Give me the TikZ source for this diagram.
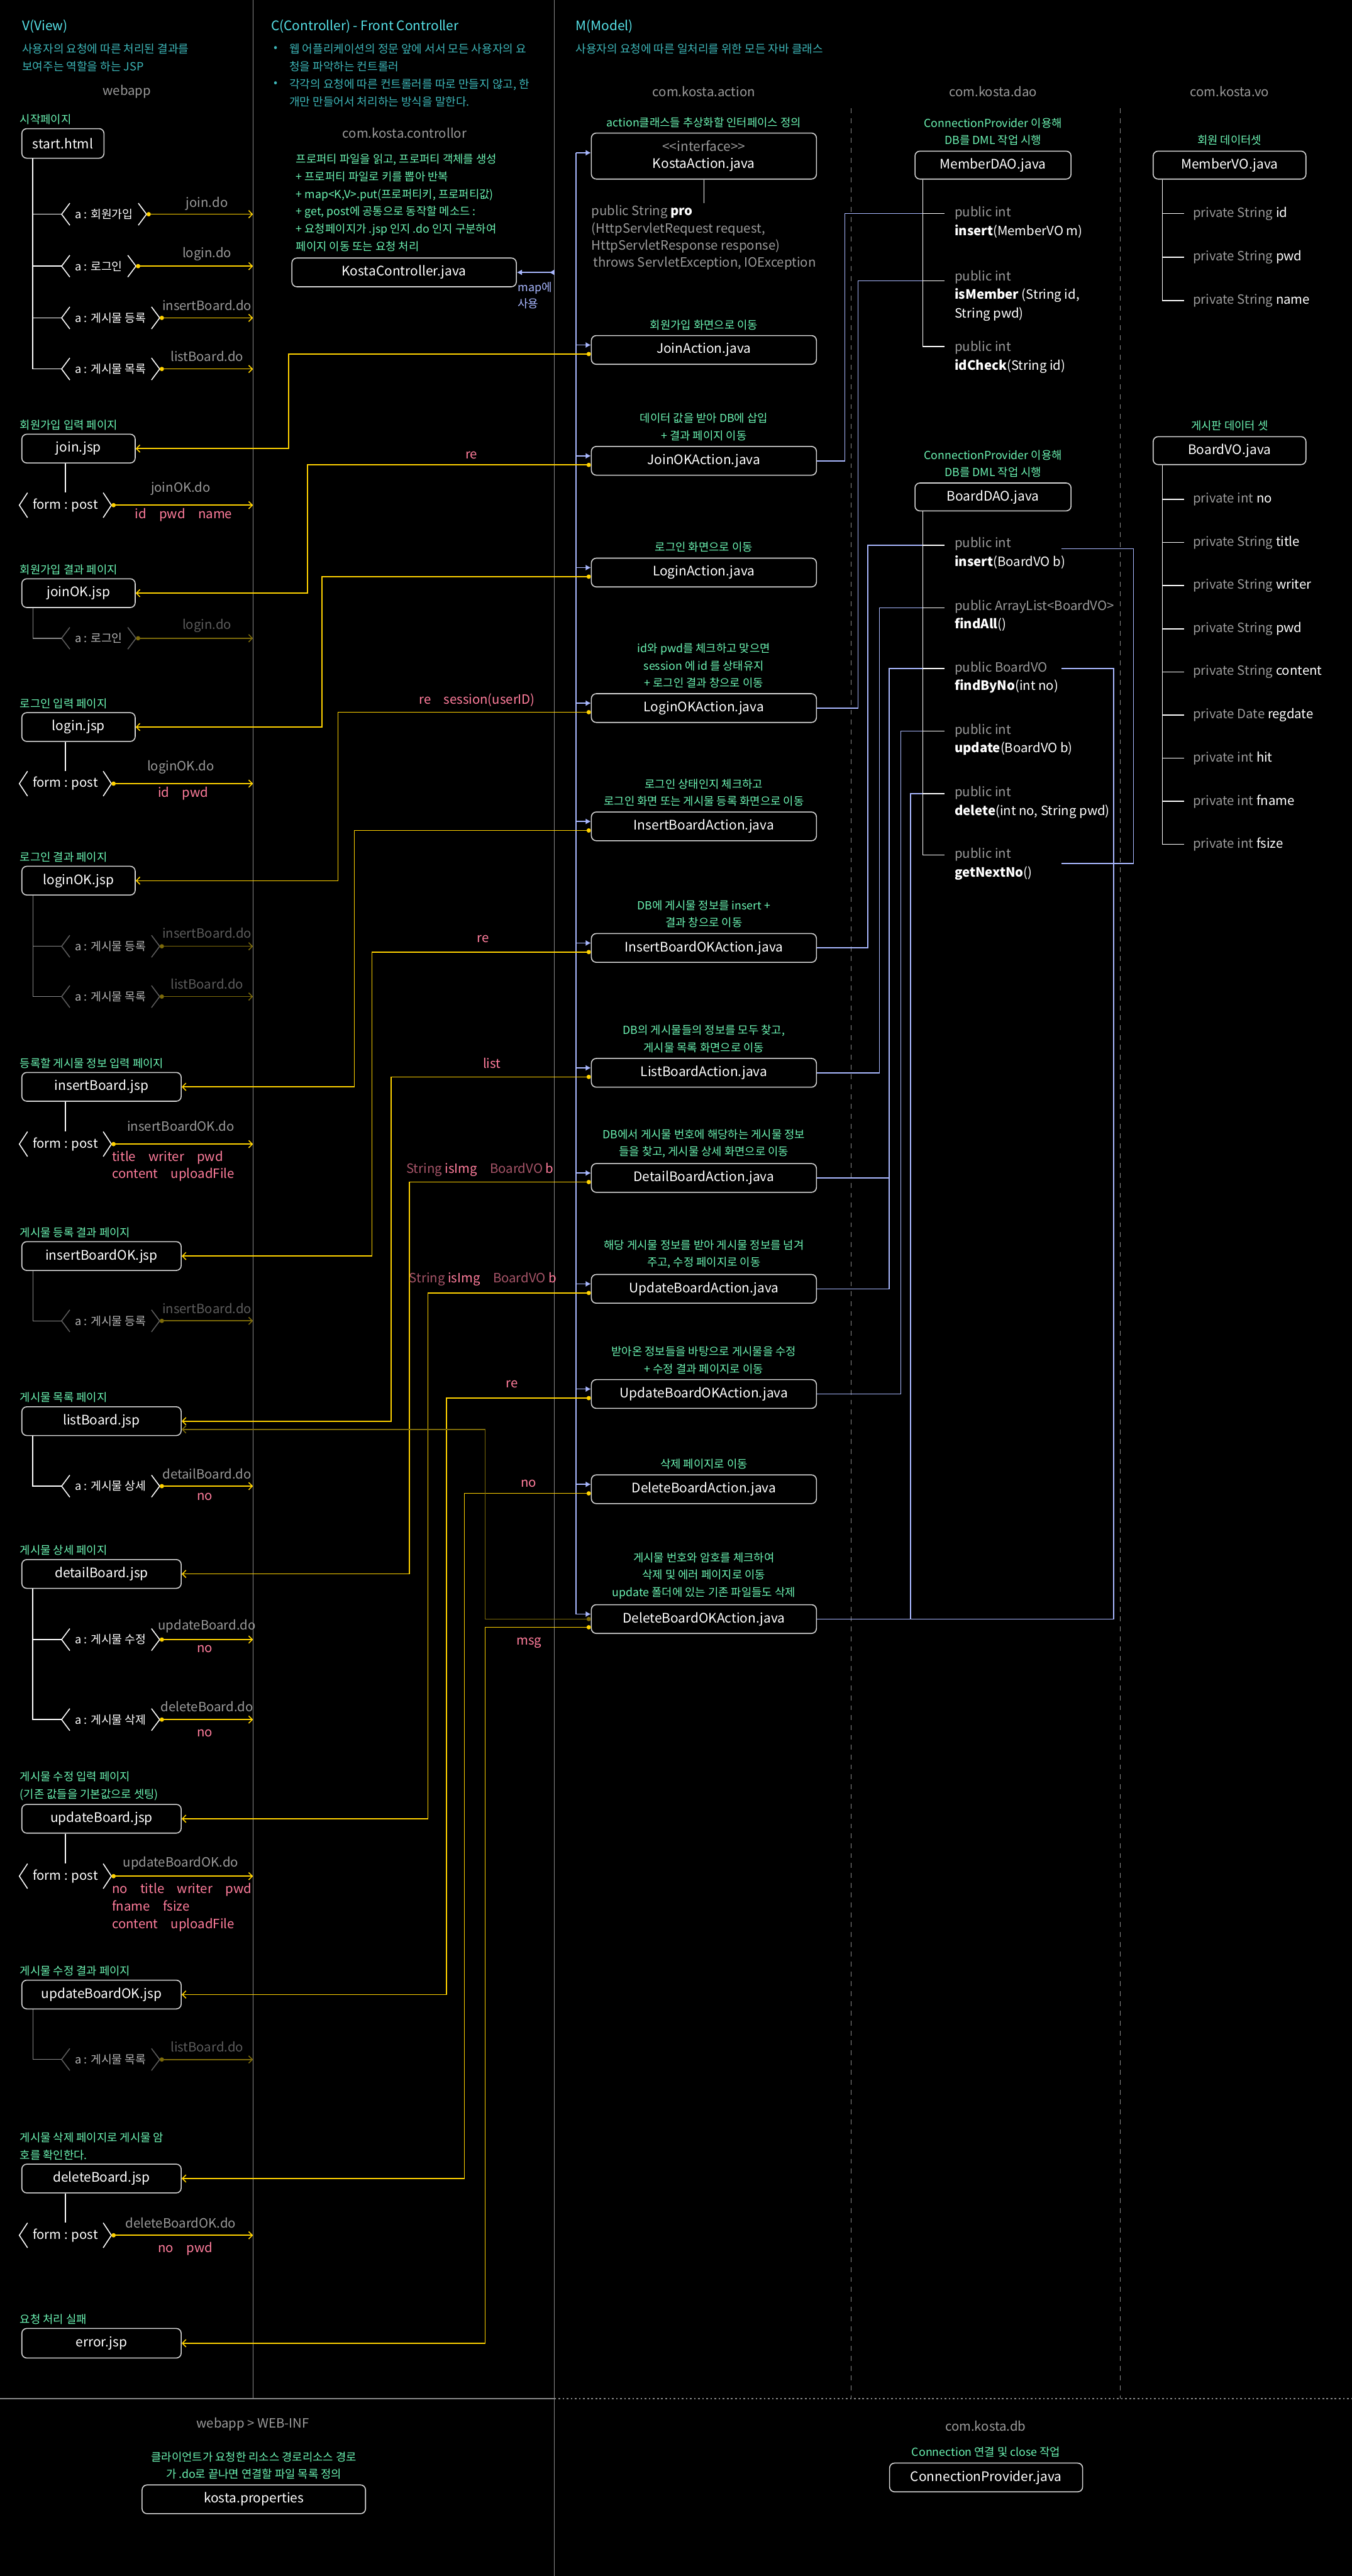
\documentclass[tikz,border=0pt]{standalone}
\usepackage{fontspec}
\setmainfont{Noto Sans CJK KR}
\usetikzlibrary{calc, arrows.meta}

\definecolor{cyanhd}{HTML}{56E0E6}
\definecolor{tealtx}{HTML}{3DB7B9}
\definecolor{mint}{HTML}{6CF5B4}
\definecolor{txtgray}{HTML}{9A9A9A}
\definecolor{dimgray}{HTML}{5C5C5C}
\definecolor{goldln}{HTML}{FFD200}
\definecolor{golddim}{HTML}{7C6A0A}
\definecolor{pinktx}{HTML}{FF7D9C}
\definecolor{pinkdim}{HTML}{A65468}
\definecolor{lavln}{HTML}{A9B8FF}
\definecolor{boxln}{HTML}{D6D6D6}
\definecolor{divln}{HTML}{8A8A8A}

% < a : ... > chevrons round a link node
\newcommand{\chevs}[2]{\draw[#2, line width=0.6pt]
  ([xshift=5pt]#1.north west) -- (#1.west) -- ([xshift=5pt]#1.south west)
  ([xshift=-5pt]#1.north east) -- (#1.east) -- ([xshift=-5pt]#1.south east);}
\newcommand{\mn}[2]{\textcolor{white}{\textbf{#1}#2}}

\begin{document}
\begin{tikzpicture}[x=1pt, y=-1pt,
  box/.style={draw=boxln, line width=0.6pt, rounded corners=3pt, fill=black, text=white,
    font=\fontsize{8}{10.6}\selectfont, minimum height=17.5pt, inner sep=2pt, align=center},
  vbox/.style={box, anchor=north west, minimum width=69pt},
  vboxw/.style={vbox, minimum width=97pt},
  abox/.style={box, minimum width=137pt},
  mlbl/.style={text=mint, font=\fontsize{6.8}{10.5}\selectfont, align=center, inner sep=1pt, anchor=south},
  plbl/.style={text=mint, font=\fontsize{6.8}{10.5}\selectfont, align=left, inner sep=1pt, anchor=south west},
  pkg/.style={text=txtgray, font=\fontsize{7.8}{10}\selectfont},
  url/.style={text=txtgray, font=\fontsize{7.8}{10}\selectfont, inner sep=0pt},
  urldim/.style={url, text=dimgray},
  param/.style={text=pinktx, font=\fontsize{7.8}{10.6}\selectfont, align=left, anchor=west, inner sep=0pt},
  rlbl/.style={text=pinktx, font=\fontsize{7.8}{10}\selectfont, inner sep=0pt},
  lnk/.style={text=white, font=\fontsize{7}{9}\selectfont, anchor=west, inner xsep=8pt, minimum height=11.6pt},
  lnkdim/.style={lnk, text=txtgray!75},
  form/.style={lnk, anchor=center, font=\fontsize{7.8}{9}\selectfont},
  tree/.style={draw=white, line width=0.6pt},
  treedim/.style={draw=divln, line width=0.5pt},
  go/.style={draw=goldln, line width=0.6pt, {Circle[length=2.6pt]}-{Straight Barb[length=2.2pt,width=4.5pt]}},
  godim/.style={go, draw=golddim},
  lav/.style={draw=lavln, line width=0.6pt},
  impl/.style={lav, -{Latex[length=3.2pt,width=3.6pt]}},
  meth/.style={text=txtgray, font=\fontsize{7.8}{11.3}\selectfont, align=left, anchor=north west, inner xsep=6pt, inner ysep=0pt},
  fld/.style={text=white, font=\fontsize{7.8}{10}\selectfont, anchor=west, inner xsep=5pt},
  divline/.style={draw=divln, line width=0.5pt}]

  \useasboundingbox (0,0) rectangle (823,1568);
  \fill[black] (0,0) rectangle (823,1568);

  \coordinate (cdiv) at (154,0);
  \coordinate (mdiv) at (337.5,0);
  \coordinate (rin) at (646,0);
  \coordinate (rout) at (678,0);
  \coordinate (rbr) at (690,0);

  % 구역 나누기
  \draw[divline] (cdiv) -- (154,1460);
  \draw[divline] (mdiv) -- (337.5,1568);
  \draw[divline] (0,1460) -- (337.5,1460);
  \draw[divline, dash pattern=on 1pt off 1.5pt] (337.5,1460) -- (823,1460);
  \draw[divline, dash pattern=on 3pt off 3pt] (518,66) -- (518,1460);
  \draw[divline, dash pattern=on 3pt off 3pt] (682,66) -- (682,1460);

  % 머리글
  \node[anchor=west, text=cyanhd, font=\fontsize{8}{10}\selectfont] at (10,16) {V(View)};
  \node[anchor=west, text=tealtx, font=\fontsize{6.9}{10.6}\selectfont, align=left] at (10,35.1)
    {사용자의 요청에 따른 처리된 결과를\\보여주는 역할을 하는 JSP};
  \node[pkg] at (77.3,55.7) {webapp};

  \node[anchor=west, text=cyanhd, font=\fontsize{8}{10}\selectfont] at (161.5,16) {C(Controller) - Front Controller};
  \node[text=tealtx, font=\fontsize{6.9}{10}\selectfont] at (168,29.9) {•};
  \node[text=tealtx, font=\fontsize{6.9}{10}\selectfont] at (168,51.3) {•};
  \node[anchor=west, text=tealtx, font=\fontsize{6.9}{10.6}\selectfont, align=left] at (172.7,35.1)
    {웹 어플리케이션의 정문 앞에 서서 모든 사용자의 요\\청을 파악하는 컨트롤러};
  \node[anchor=west, text=tealtx, font=\fontsize{6.9}{10.6}\selectfont, align=left] at (172.7,56.5)
    {각각의 요청에 따른 컨트롤러를 따로 만들지 않고, 한\\개만 만들어서 처리하는 방식을 말한다.};
  \node[pkg] at (246.3,81) {com.kosta.controllor};

  \node[anchor=west, text=cyanhd, font=\fontsize{8}{10}\selectfont] at (347,16) {M(Model)};
  \node[anchor=west, text=tealtx, font=\fontsize{6.9}{10}\selectfont] at (347,29.9)
    {사용자의 요청에 따른 일처리를 위한 모든 자바 클래스};
  \node[pkg] at (428.5,55.7) {com.kosta.action};
  \node[pkg] at (604.5,55.7) {com.kosta.dao};
  \node[pkg] at (748.5,55.7) {com.kosta.vo};

  % ---------------- View ----------------
  \node[vbox, minimum width=50pt, minimum height=18pt] (start) at (13,78) {start.html};
  \node[plbl] at ([xshift=-2pt,yshift=1pt]start.north west) {시작페이지};
  \node[lnk] (l1) at (37.5,130.4) {a : 회원가입};
  \node[lnk] (l2) at (37.5,162) {a : 로그인};
  \node[lnk] (l3) at (37.5,193.5) {a : 게시물 등록};
  \node[lnk] (l4) at (37.5,224.6) {a : 게시물 목록};
  \foreach \n in {l1,l2,l3,l4} {
    \draw[tree] ([xshift=7pt]start.south west) |- (\n.west);
    \chevs{\n}{white}
    \draw[go] (\n.east) -- (\n.east -| cdiv);
  }
  \node[url] at (126,124) {join.do};
  \node[url] at (126,154.6) {login.do};
  \node[url] at (126,186) {insertBoard.do};
  \node[url] at (126,217) {listBoard.do};

  % join.jsp
  \node[vbox] (join) at (13,264) {join.jsp};
  \node[plbl] at ([xshift=-2pt,yshift=1pt]join.north west) {회원가입 입력 페이지};
  \node[form] (fjoin) at (39.8,307.5) {form : post};
  \chevs{fjoin}{white}
  \draw[tree] (fjoin.north |- join.south) -- (fjoin.north);
  \draw[go] (fjoin.east) -- (fjoin.east -| cdiv);
  \node[url] at (110,297.4) {joinOK.do};
  \node[param] at (82,313.4) {id\quad pwd\quad name};

  % joinOK.jsp
  \node[vbox] (joinok) at (13,352) {joinOK.jsp};
  \node[plbl] at ([xshift=-2pt,yshift=1pt]joinok.north west) {회원가입 결과 페이지};
  \node[lnkdim] (ld1) at (37.5,388.5) {a : 로그인};
  \chevs{ld1}{dimgray}
  \draw[treedim] ([xshift=7pt]joinok.south west) |- (ld1.west);
  \draw[godim] (ld1.east) -- (ld1.east -| cdiv);
  \node[urldim] at (126,381) {login.do};

  % login.jsp
  \node[vbox] (login) at (13,433.5) {login.jsp};
  \node[plbl] at ([xshift=-2pt,yshift=1pt]login.north west) {로그인 입력 페이지};
  \node[form] (flogin) at (39.8,477) {form : post};
  \chevs{flogin}{white}
  \draw[tree] (flogin.north |- login.south) -- (flogin.north);
  \draw[go] (flogin.east) -- (flogin.east -| cdiv);
  \node[url] at (110,467) {loginOK.do};
  \node[param] at (96,483) {id\quad pwd};

  % loginOK.jsp
  \node[vbox] (loginok) at (13,527) {loginOK.jsp};
  \node[plbl] at ([xshift=-2pt,yshift=1pt]loginok.north west) {로그인 결과 페이지};
  \node[lnkdim] (ld2) at (37.5,576) {a : 게시물 등록};
  \node[lnkdim] (ld3) at (37.5,606.6) {a : 게시물 목록};
  \foreach \n in {ld2,ld3} {
    \draw[treedim] ([xshift=7pt]loginok.south west) |- (\n.west);
    \chevs{\n}{dimgray}
    \draw[godim] (\n.east) -- (\n.east -| cdiv);
  }
  \node[urldim] at (126,568) {insertBoard.do};
  \node[urldim] at (126,599) {listBoard.do};

  % insertBoard.jsp
  \node[vboxw] (insertb) at (13,652.5) {insertBoard.jsp};
  \node[plbl] at ([xshift=-2pt,yshift=1pt]insertb.north west) {등록할 게시물 정보 입력 페이지};
  \node[form] (fins) at (39.8,696.4) {form : post};
  \chevs{fins}{white}
  \draw[tree] (fins.north |- insertb.south) -- (fins.north);
  \draw[go] (fins.east) -- (fins.east -| cdiv);
  \node[url] at (110,685.6) {insertBoardOK.do};
  \node[param] at (68,709.8) {title\quad writer\quad pwd\\content\quad uploadFile};

  % insertBoardOK.jsp
  \node[vboxw] (insertbok) at (13,755.5) {insertBoardOK.jsp};
  \node[plbl] at ([xshift=-2pt,yshift=1pt]insertbok.north west) {게시물 등록 결과 페이지};
  \node[lnkdim] (ld4) at (37.5,804) {a : 게시물 등록};
  \chevs{ld4}{dimgray}
  \draw[treedim] ([xshift=7pt]insertbok.south west) |- (ld4.west);
  \draw[godim] (ld4.east) -- (ld4.east -| cdiv);
  \node[urldim] at (126,796.6) {insertBoard.do};

  % listBoard.jsp
  \node[vboxw] (listb) at (13,856) {listBoard.jsp};
  \node[plbl] at ([xshift=-2pt,yshift=1pt]listb.north west) {게시물 목록 페이지};
  \node[lnk] (l5) at (37.5,904.6) {a : 게시물 상세};
  \chevs{l5}{white}
  \draw[tree] ([xshift=7pt]listb.south west) |- (l5.west);
  \draw[go] (l5.east) -- (l5.east -| cdiv);
  \node[url] at (126,897) {detailBoard.do};
  \node[rlbl] at (124.6,911) {no};

  % detailBoard.jsp
  \node[vboxw] (detailb) at (13,949) {detailBoard.jsp};
  \node[plbl] at ([xshift=-2pt,yshift=1pt]detailb.north west) {게시물 상세 페이지};
  \node[lnk] (l6) at (37.5,998) {a : 게시물 수정};
  \node[lnk] (l7) at (37.5,1046.7) {a : 게시물 삭제};
  \foreach \n in {l6,l7} {
    \draw[tree] ([xshift=7pt]detailb.south west) |- (\n.west);
    \chevs{\n}{white}
    \draw[go] (\n.east) -- (\n.east -| cdiv);
  }
  \node[url] at (126,990) {updateBoard.do};
  \node[rlbl] at (124.6,1003.6) {no};
  \node[url] at (126,1038.6) {deleteBoard.do};
  \node[rlbl] at (124.6,1055) {no};

  % updateBoard.jsp
  \node[vboxw] (updateb) at (13,1098) {updateBoard.jsp};
  \node[plbl] at ([xshift=-2pt,yshift=1pt]updateb.north west) {게시물 수정 입력 페이지\\(기존 값들을 기본값으로 셋팅)};
  \node[form] (fupd) at (39.8,1142) {form : post};
  \chevs{fupd}{white}
  \draw[tree] (fupd.north |- updateb.south) -- (fupd.north);
  \draw[go] (fupd.east) -- (fupd.east -| cdiv);
  \node[url] at (110,1134) {updateBoardOK.do};
  \node[param] at (68,1161) {no\quad title\quad writer\quad pwd\\fname\quad fsize\\content\quad uploadFile};

  % updateBoardOK.jsp
  \node[vboxw] (updatebok) at (13,1205) {updateBoardOK.jsp};
  \node[plbl] at ([xshift=-2pt,yshift=1pt]updatebok.north west) {게시물 수정 결과 페이지};
  \node[lnkdim] (ld5) at (37.5,1253.6) {a : 게시물 목록};
  \chevs{ld5}{dimgray}
  \draw[treedim] ([xshift=7pt]updatebok.south west) |- (ld5.west);
  \draw[godim] (ld5.east) -- (ld5.east -| cdiv);
  \node[urldim] at (126,1246) {listBoard.do};

  % deleteBoard.jsp
  \node[vboxw] (deleteb) at (13,1317) {deleteBoard.jsp};
  \node[plbl] at ([xshift=-2pt,yshift=1pt]deleteb.north west) {게시물 삭제 페이지로 게시물 암\\호를 확인한다.};
  \node[form] (fdel) at (39.8,1360.6) {form : post};
  \chevs{fdel}{white}
  \draw[tree] (fdel.north |- deleteb.south) -- (fdel.north);
  \draw[go] (fdel.east) -- (fdel.east -| cdiv);
  \node[url] at (110,1353) {deleteBoardOK.do};
  \node[param] at (96,1369) {no\quad pwd};

  % error.jsp
  \node[vboxw, minimum height=18pt] (error) at (13,1417) {error.jsp};
  \node[plbl] at ([xshift=-2pt,yshift=1pt]error.north west) {요청 처리 실패};

  % ---------------- Controller ----------------
  \node[anchor=west, text=mint, font=\fontsize{6.8}{10.6}\selectfont, align=left] at (176.7,123.4)
    {프로퍼티 파일을 읽고, 프로퍼티 객체를 생성\\+ 프로퍼티 파일로 키를 뽑아 반복\\+ map<K,V>.put(프로퍼티키, 프로퍼티값)\\+ get, post에 공통으로 동작할 메소드 :\\+ 요청페이지가 .jsp 인지 .do 인지 구분하여\\페이지 이동 또는 요청 처리};
  \node[box, minimum width=136.6pt] (ctrl) at (246,165.8) {KostaController.java};
  \node[anchor=west, text=lavln, font=\fontsize{6.9}{10}\selectfont, align=left, inner sep=0.5pt] at (314.5,179.7) {map에\\사용};
  \draw[lav, {Latex[reversed,length=3.2pt,width=3.6pt]}-{Latex[length=3.2pt,width=3.6pt]}] (ctrl.east -| mdiv) -- (ctrl.east);

  % ---------------- Model : action ----------------
  \node[abox, minimum height=28pt] (kaction) at (428.5,95) {\textcolor{txtgray}{<{}<interface>{}>}\\KostaAction.java};
  \node[mlbl] at ([yshift=2pt]kaction.north) {action클래스들 추상화할 인터페이스 정의};
  \node[text=txtgray, font=\fontsize{7.8}{10.5}\selectfont, align=left, anchor=west, inner sep=1pt] (ksig) at (359,144.7)
    {public String \textcolor{white}{\textbf{pro}}\\(HttpServletRequest request,\\HttpServletResponse response)\\\hspace{1pt}throws ServletException, IOException};
  \draw[tree] (kaction.south) -- (kaction.south |- ksig.north);

  \node[abox] (joinact) at (428.5,213) {JoinAction.java};
  \node[mlbl] at ([yshift=2pt]joinact.north) {회원가입 화면으로 이동};
  \node[abox] (joinokact) at (428.5,280.5) {JoinOKAction.java};
  \node[mlbl] at ([yshift=2pt]joinokact.north) {데이터 값을 받아 DB에 삽입\\+ 결과 페이지 이동};
  \node[abox] (loginact) at (428.5,348.5) {LoginAction.java};
  \node[mlbl] at ([yshift=2pt]loginact.north) {로그인 화면으로 이동};
  \node[abox] (loginokact) at (428.5,431) {LoginOKAction.java};
  \node[mlbl] at ([yshift=2pt]loginokact.north) {id와 pwd를 체크하고 맞으면\\session 에 id 를 상태유지\\+ 로그인 결과 창으로 이동};
  \node[abox] (insact) at (428.5,503) {InsertBoardAction.java};
  \node[mlbl] at ([yshift=2pt]insact.north) {로그인 상태인지 체크하고\\로그인 화면 또는 게시물 등록 화면으로 이동};
  \node[abox] (insokact) at (428.5,577) {InsertBoardOKAction.java};
  \node[mlbl] at ([yshift=2pt]insokact.north) {DB에 게시물 정보를 insert +\\결과 창으로 이동};
  \node[abox] (listact) at (428.5,653) {ListBoardAction.java};
  \node[mlbl] at ([yshift=2pt]listact.north) {DB의 게시물들의 정보를 모두 찾고,\\게시물 목록 화면으로 이동};
  \node[abox] (detailact) at (428.5,717) {DetailBoardAction.java};
  \node[mlbl] at ([yshift=2pt]detailact.north) {DB에서 게시물 번호에 해당하는 게시물 정보\\들을 찾고, 게시물 상세 화면으로 이동};
  \node[abox] (updact) at (428.5,784.5) {UpdateBoardAction.java};
  \node[mlbl] at ([yshift=2pt]updact.north) {해당 게시물 정보를 받아 게시물 정보를 넘겨\\주고, 수정 페이지로 이동};
  \node[abox] (updokact) at (428.5,848.5) {UpdateBoardOKAction.java};
  \node[mlbl] at ([yshift=2pt]updokact.north) {받아온 정보들을 바탕으로 게시물을 수정\\+ 수정 결과 페이지로 이동};
  \node[abox] (delact) at (428.5,906.5) {DeleteBoardAction.java};
  \node[mlbl] at ([yshift=2pt]delact.north) {삭제 페이지로 이동};
  \node[abox] (delokact) at (428.5,985.5) {DeleteBoardOKAction.java};
  \node[mlbl] at ([yshift=2pt]delokact.north) {게시물 번호와 암호를 체크하여\\삭제 및 에러 페이지로 이동\\update 폴더에 있는 기존 파일들도 삭제};

  % 인터페이스 구현
  \draw[lav] ([xshift=-9pt,yshift=2pt]kaction.west) -- ([xshift=-9pt,yshift=3pt]delokact.west);
  \draw[impl] ([yshift=2pt]kaction.west) ++(-9,0) -- ([yshift=2pt]kaction.west);
  \foreach \a in {joinact,joinokact,loginact,loginokact,insact,insokact,listact,detailact,updact,updokact,delact,delokact}
    \draw[impl] ([yshift=3pt]\a.west) ++(-9,0) -- ([yshift=3pt]\a.west);

  % ---------------- Model : dao ----------------
  \node[box, minimum width=95pt, minimum height=17pt] (mdao) at (604.5,100.5) {MemberDAO.java};
  \node[mlbl] at ([yshift=2pt]mdao.north) {ConnectionProvider 이용해\\DB를 DML 작업 시행};
  \coordinate (t-mins) at (575,130);
  \coordinate (t-mismem) at (575,171);
  \coordinate (t-midchk) at (575,211);
  \node[meth] (mins) at (575,125.5) {public int\\\mn{insert}{(MemberVO m)}};
  \node[meth] (mismem) at (575,164.5) {public int\\\mn{isMember}{ (String id,}\\\textcolor{white}{String pwd)}};
  \node[meth] (midchk) at (575,207.5) {public int\\\mn{idCheck}{(String id)}};

  \node[box, minimum width=95pt, minimum height=17pt] (bdao) at (604.5,302.5) {BoardDAO.java};
  \node[mlbl] at ([yshift=2pt]bdao.north) {ConnectionProvider 이용해\\DB를 DML 작업 시행};
  \coordinate (t-bins) at (575,332);
  \coordinate (t-bfind) at (575,370);
  \coordinate (t-bfindno) at (575,407);
  \coordinate (t-bupd) at (575,445);
  \coordinate (t-bdel) at (575,483);
  \coordinate (t-bnext) at (575,520.5);
  \node[meth] (bins) at (575,327) {public int\\\mn{insert}{(BoardVO b)}};
  \node[meth] (bfind) at (575,365) {public ArrayList<BoardVO>\\\mn{findAll}{()}};
  \node[meth] (bfindno) at (575,402.5) {public BoardVO\\\mn{findByNo}{(int no)}};
  \node[meth] (bupd) at (575,440.5) {public int\\\mn{update}{(BoardVO b)}};
  \node[meth] (bdel) at (575,478.5) {public int\\\mn{delete}{(int no, String pwd)}};
  \node[meth] (bnext) at (575,516) {public int\\\mn{getNextNo}{()}};

  % action -> dao
  \draw[lav] (joinokact.east) -- ++(17,0) |- (t-mins);
  \draw[lav] (loginokact.east) -- ++(25,0) |- (t-mismem);
  \draw[lav] (insokact.east) -- ++(31,0) |- (t-bins);
  \draw[lav] (listact.east) -- ++(38,0) |- (t-bfind);
  \draw[lav] (detailact.east) -- ++(44,0) |- (t-bfindno);
  \draw[lav] (updact.east) -- ++(44,0) |- (t-bfindno);
  \draw[lav] (updokact.east) -- ++(51,0) |- (t-bupd);
  \draw[lav] (delokact.east) -- ++(57,0) |- (t-bdel);
  \draw[lav] (delokact.east) -| (rout |- t-bfindno) -- (rin |- t-bfindno);
  \draw[lav] ($(t-bins -| rin)+(0,2)$) -| ($(t-bnext -| rbr)+(0,5)$) -- ($(t-bnext -| rin)+(0,5)$);

  \foreach \n in {mins,mismem,midchk}
    \draw[tree] ([xshift=5pt]mdao.south west) |- (t-\n);
  \foreach \n in {bins,bfind,bfindno,bupd,bdel,bnext}
    \draw[tree] ([xshift=5pt]bdao.south west) |- (t-\n);

  % ---------------- Model : vo ----------------
  \node[box, minimum width=93pt, minimum height=17pt] (mvo) at (748.5,100.5) {MemberVO.java};
  \node[mlbl] at ([yshift=2pt]mvo.north) {회원 데이터셋};
  \foreach \f [count=\i] in {id,pwd,name} {
    \node[fld] (mf\i) at (721,{130+26.5*(\i-1)}) {\textcolor{txtgray}{private String} \f};
    \draw[tree] ([xshift=6pt]mvo.south west) |- (mf\i.west);
  }
  \node[box, minimum width=93pt, minimum height=17pt] (bvo) at (748.5,274.3) {BoardVO.java};
  \node[mlbl] at ([yshift=2pt]bvo.north) {게시판 데이터 셋};
  \foreach \f/\t [count=\i] in {no/int,title/String,writer/String,pwd/String,content/String,regdate/Date,hit/int,fname/int,fsize/int} {
    \node[fld] (bf\i) at (721,{304+26.25*(\i-1)}) {\textcolor{txtgray}{private \t} \f};
    \draw[tree] ([xshift=6pt]bvo.south west) |- (bf\i.west);
  }

  % ---------------- action -> view ----------------
  \draw[go] ([yshift=-2.5pt]joinact.west) -- ++(-184,0) |- (join.east);
  \draw[go] ([yshift=-2.5pt]joinokact.west) -- ++(-172.6,0) |- (joinok.east);
  \draw[go] ([yshift=-2.5pt]loginact.west) -- ++(-163.6,0) |- (login.east);
  \draw[go] ([yshift=-2.5pt]loginokact.west) -- ++(-154,0) |- (loginok.east);
  \draw[go] ([yshift=-2.5pt]insact.west) -- ++(-144,0) |- (insertb.east);
  \draw[go] ([yshift=-2.5pt]insokact.west) -- ++(-133.2,0) |- (insertbok.east);
  \draw[go] ([yshift=-2.5pt]listact.west) -- ++(-121.5,0) |- (listb.east);
  \draw[go] ([yshift=-2.5pt]detailact.west) -- ++(-110.5,0) |- (detailb.east);
  \draw[go] ([yshift=-2.5pt]updact.west) -- ++(-99.2,0) |- (updateb.east);
  \draw[go] ([yshift=-2.5pt]updokact.west) -- ++(-88,0) |- (updatebok.east);
  \draw[go] ([yshift=-2.5pt]delact.west) -- ++(-77,0) |- (deleteb.east);
  \draw[godim] (delokact.west) -- ++(-64.3,0) |- ([yshift=-5pt]listb.east);
  \draw[go] ([yshift=-5pt]delokact.west) -- ++(-64.3,0) |- (error.east);

  \node[rlbl] at (287,277) {re};
  \node[rlbl] at (290.4,426) {re\quad session(userID)};
  \node[rlbl] at (294,571.5) {re};
  \node[rlbl] at (299.4,647) {list};
  \node[rlbl] at (292.2,712) {\textcolor{pinkdim}{String} isImg\quad\textcolor{pinkdim}{BoardVO} b};
  \node[rlbl] at (294,778.7) {\textcolor{pinkdim}{String} isImg\quad\textcolor{pinkdim}{BoardVO} b};
  \node[rlbl] at (311.6,842.7) {re};
  \node[rlbl] at (321.8,903) {no};
  \node[rlbl] at (322,1000) {msg};

  % ---------------- 아래 구역 ----------------
  \node[pkg] at (154,1475.8) {webapp > WEB-INF};
  \node[box, minimum width=136pt] (kprop) at (154.5,1521.3) {kosta.properties};
  \node[mlbl] at ([yshift=2pt]kprop.north) {클라이언트가 요청한 리소스 경로리소스 경로\\가 .do로 끝나면 연결할 파일 목록 정의};
  \node[pkg] at (600,1476.6) {com.kosta.db};
  \node[box, minimum width=117.5pt] (cprov) at (600.3,1508) {ConnectionProvider.java};
  \node[mlbl] at ([yshift=2pt]cprov.north) {Connection 연결 및 close 작업};
\end{tikzpicture}
\end{document}
